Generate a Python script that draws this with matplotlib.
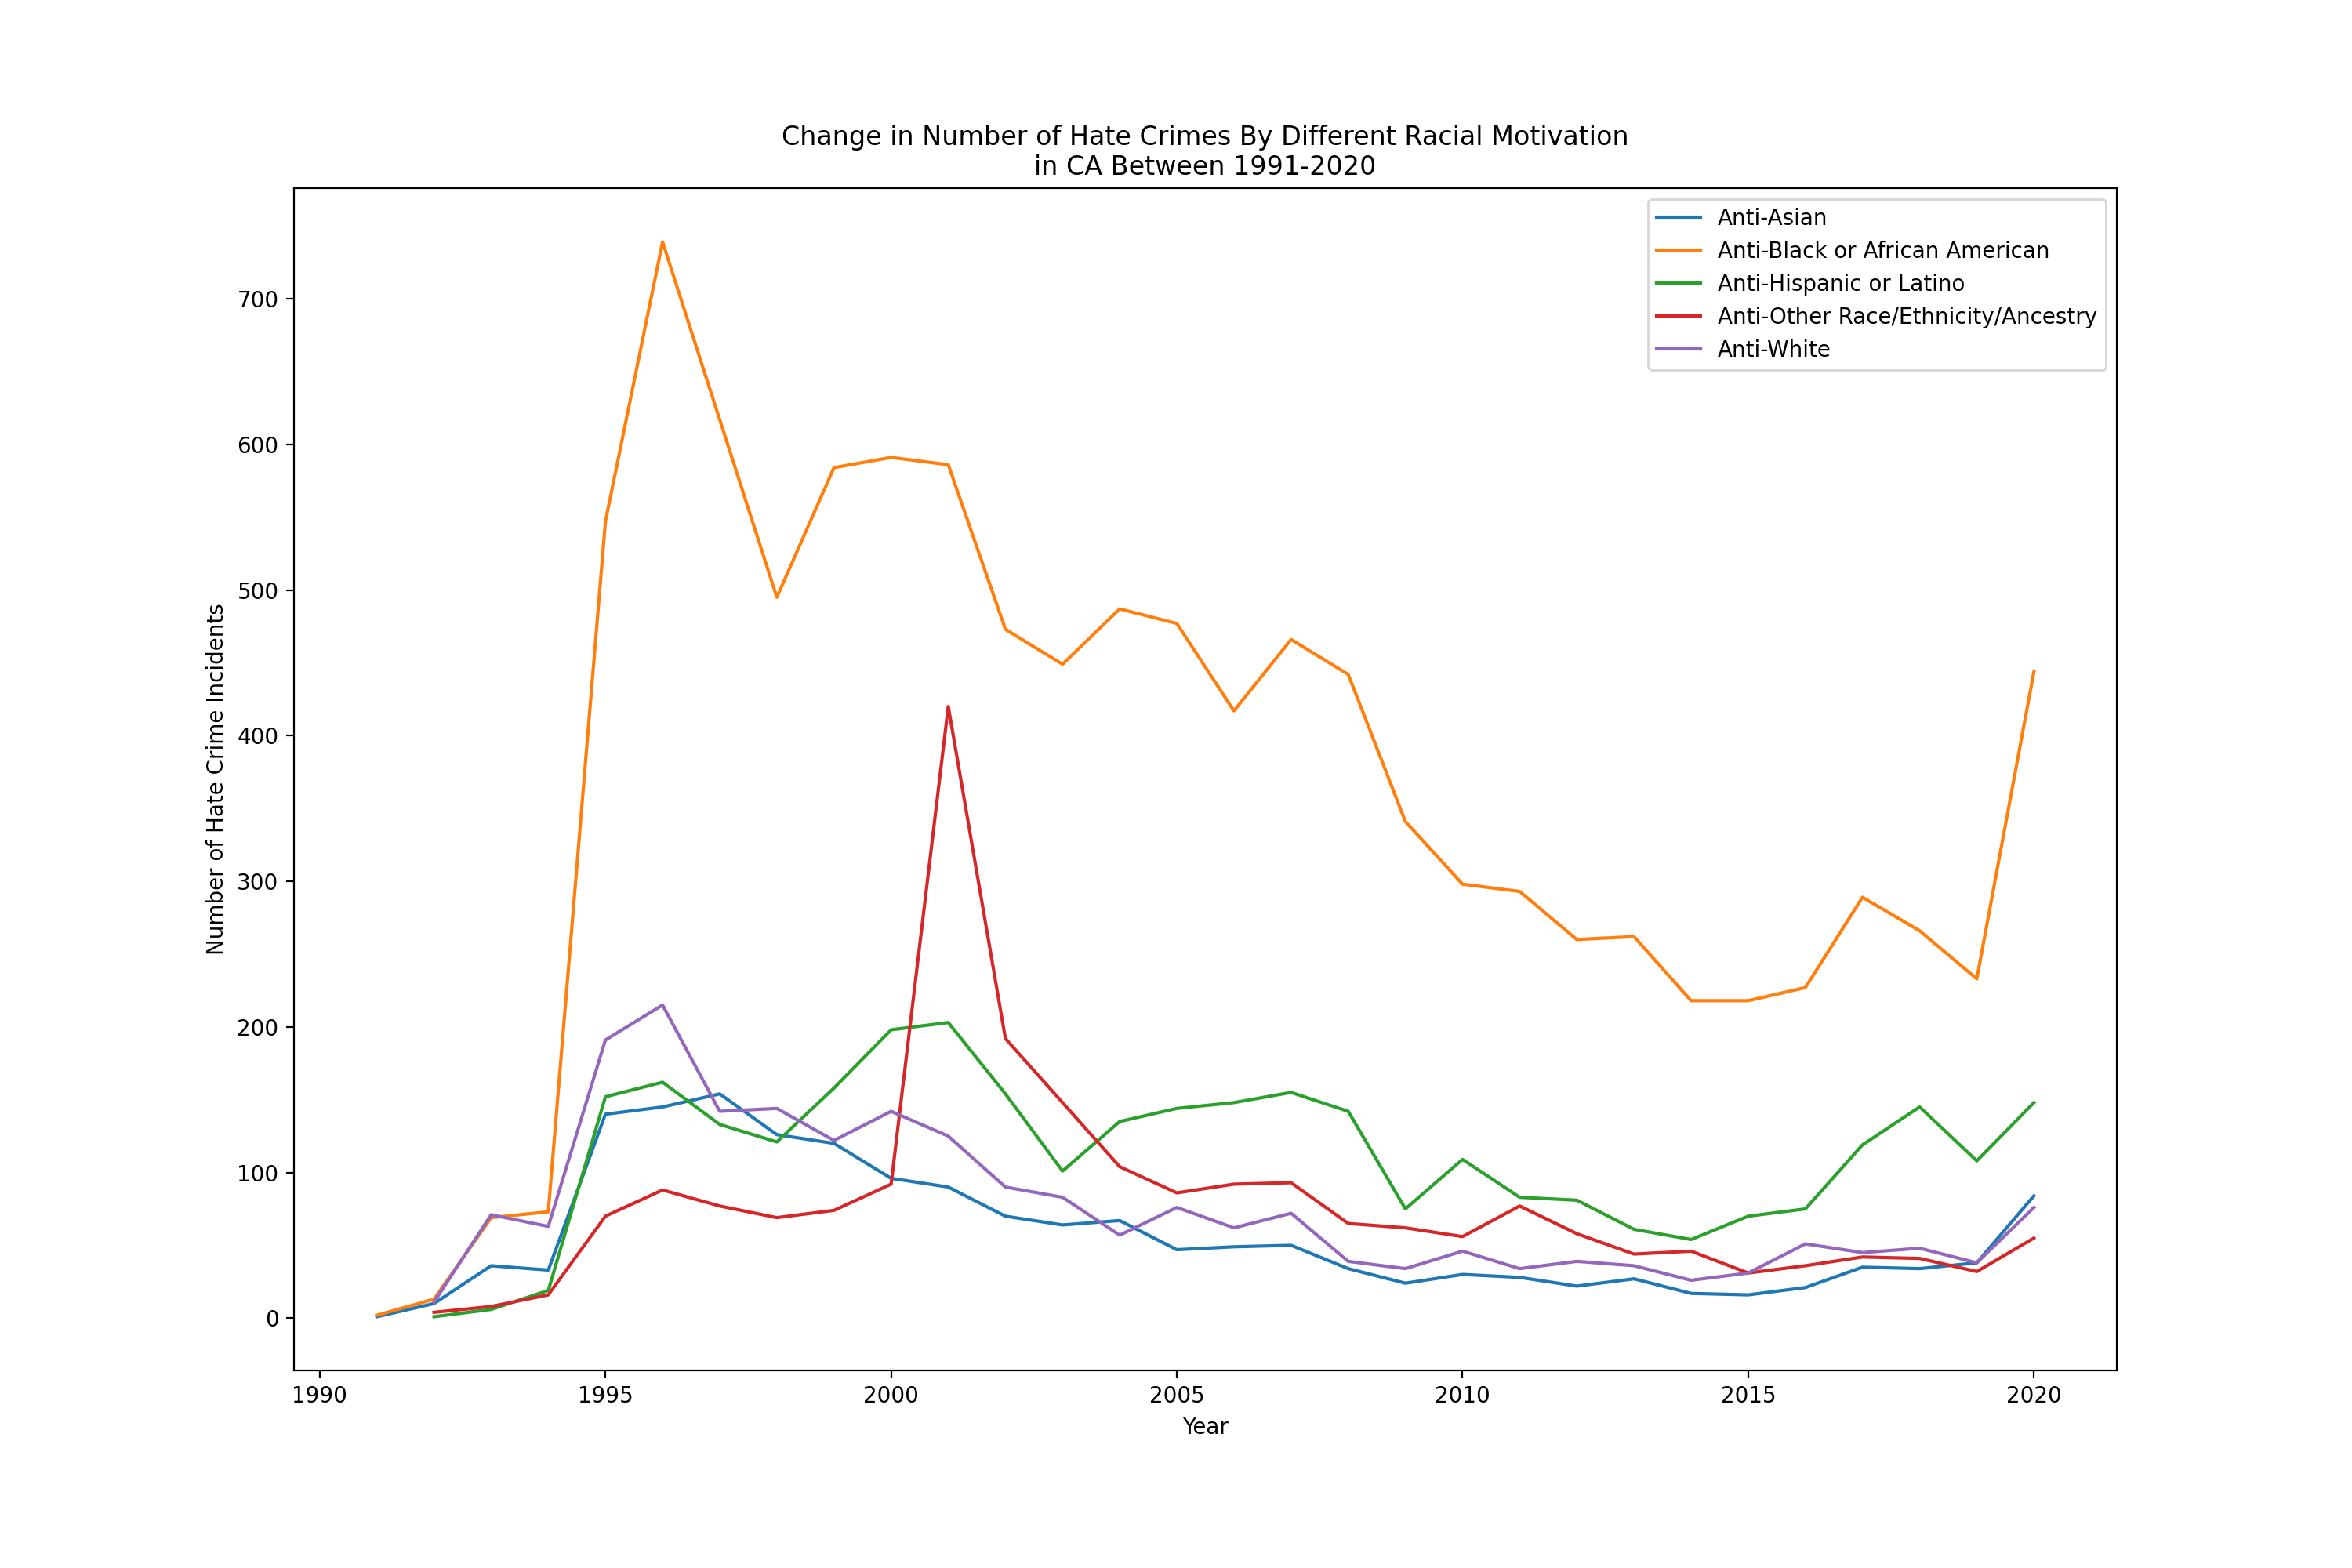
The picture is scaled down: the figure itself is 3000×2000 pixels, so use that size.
import numpy as np
import matplotlib
matplotlib.use("Agg")
import matplotlib.pyplot as plt

years_all = list(range(1991, 2021))
years_92 = list(range(1992, 2021))

anti_asian = [1, 10, 36, 33, 140, 145, 154, 126, 120, 96, 90, 70, 64, 67, 47,
              49, 50, 34, 24, 30, 28, 22, 27, 17, 16, 21, 35, 34, 38, 84]
anti_black = [2, 13, 69, 73, 547, 739, 617, 495, 584, 591, 586, 473, 449, 487, 477,
              417, 466, 442, 341, 298, 293, 260, 262, 218, 218, 227, 289, 266, 233, 444]
anti_hispanic = [1, 6, 19, 152, 162, 133, 121, 158, 198, 203, 154, 101, 135, 144,
                 148, 155, 142, 75, 109, 83, 81, 61, 54, 70, 75, 119, 145, 108, 148]
anti_other = [4, 8, 16, 70, 88, 77, 69, 74, 92, 420, 192, 148, 104, 86,
              92, 93, 65, 62, 56, 77, 58, 44, 46, 31, 36, 42, 41, 32, 55]
anti_white = [11, 71, 63, 191, 215, 142, 144, 122, 142, 125, 90, 83, 57, 76,
              62, 72, 39, 34, 46, 34, 39, 36, 26, 31, 51, 45, 48, 38, 76]

fig, ax = plt.subplots(figsize=(15, 10), dpi=200)
fig.subplots_adjust(bottom=0.126)
ax.plot(years_all, anti_asian, label="Anti-Asian")
ax.plot(years_all, anti_black, label="Anti-Black or African American")
ax.plot(years_92, anti_hispanic, label="Anti-Hispanic or Latino")
ax.plot(years_92, anti_other, label="Anti-Other Race/Ethnicity/Ancestry")
ax.plot(years_92, anti_white, label="Anti-White")

ax.set_title("Change in Number of Hate Crimes By Different Racial Motivation\nin CA Between 1991-2020")
ax.set_xlabel("Year")
ax.set_ylabel("Number of Hate Crime Incidents")
ax.set_xticks([1990, 1995, 2000, 2005, 2010, 2015, 2020])
ax.legend(loc="upper right")

plt.savefig("out.png")
